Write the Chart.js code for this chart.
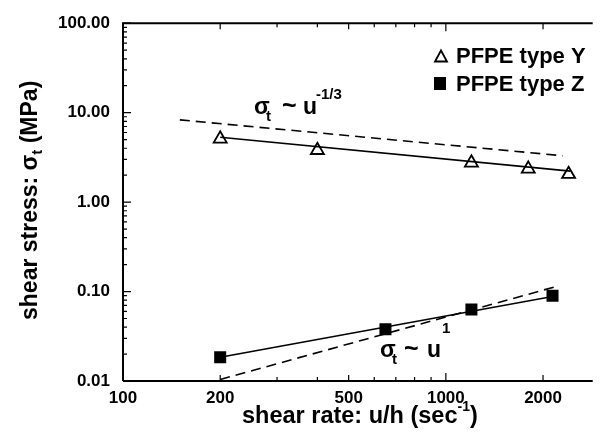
<!DOCTYPE html>
<html>
<head>
<meta charset="utf-8">
<script src="https://cdn.jsdelivr.net/npm/chart.js@4.4.1/dist/chart.umd.min.js"></script>
<style>
  html, body { margin: 0; padding: 0; background: #fff; }
</style>
</head>
<body>
<canvas id="shear" width="602" height="432"></canvas>
<script>
const xTicks = [100, 200, 500, 1000, 2000];
const yTicks = [0.01, 0.1, 1, 10, 100];

// PFPE type Y, open triangles
const rateY = [200, 400, 1200, 1800, 2400];
const stressY = [5.1, 3.8, 2.75, 2.35, 2.05];
// PFPE type Z, filled squares
const rateZ = [200, 650, 1200, 2140];
const stressZ = [0.0184, 0.038, 0.063, 0.09];

// solid fit lines and dashed power-law guides (end points)
const fitRateY = [200, 2430];
const fitStressY = [5.3, 2.22];
const guideRateY = [150, 2300];
const guideStressY = [8.3, 3.3];
const fitRateZ = [200, 2140];
const fitStressZ = [0.0184, 0.088];
const guideRateZ = [200, 2200];
const guideStressZ = [0.0104, 0.114];

const FONT = '"Liberation Sans", Arial, Helvetica, sans-serif';

function pts(xs, ys) {
  return xs.map((x, i) => ({ x: x, y: ys[i] }));
}

function lineSet(xs, ys, dashed) {
  return {
    data: pts(xs, ys),
    showLine: true,
    borderColor: '#000',
    borderWidth: 1.6,
    borderDash: dashed ? [10, 6] : [],
    pointRadius: 0,
    fill: false
  };
}

// draw pieces of text, each at its own x / baseline
function pieces(ctx, list) {
  list.forEach(p => {
    ctx.font = 'bold ' + p.s + 'px ' + FONT;
    ctx.fillText(p.t, p.x, p.y);
  });
}

// flowing text with sub/superscripts
function flow(ctx, x, y, list) {
  list.forEach(p => {
    ctx.font = 'bold ' + p.s + 'px ' + FONT;
    ctx.fillText(p.t, x, y + (p.dy || 0));
    x += ctx.measureText(p.t).width;
  });
}

const decorations = {
  id: 'decorations',
  afterDraw(chart) {
    const { ctx, chartArea: a, scales: { x, y } } = chart;
    ctx.save();
    ctx.strokeStyle = '#000';
    ctx.fillStyle = '#000';
    ctx.setLineDash([]);

    // frame: left, top, bottom
    ctx.lineWidth = 2;
    ctx.beginPath();
    ctx.moveTo(a.left, a.bottom);
    ctx.lineTo(a.left, a.top);
    ctx.lineTo(a.right, a.top);
    ctx.moveTo(a.left, a.bottom);
    ctx.lineTo(a.right, a.bottom);
    ctx.stroke();

    // inward ticks
    ctx.lineWidth = 1.2;
    ctx.beginPath();
    for (let d = 100; d <= 1000; d *= 10) {
      for (let m = 1; m <= 9; m++) {
        const v = m * d;
        if (v > 2850) break;
        const px = x.getPixelForValue(v);
        const len = m === 1 ? 8 : (xTicks.includes(v) ? 6 : 4);
        ctx.moveTo(px, a.bottom);
        ctx.lineTo(px, a.bottom - len);
        ctx.moveTo(px, a.top);
        ctx.lineTo(px, a.top + len);
      }
    }
    for (let d = 0.01; d < 50; d *= 10) {
      for (let m = 1; m <= 9; m++) {
        const py = y.getPixelForValue(m * d);
        const len = m === 1 ? 8 : 4;
        ctx.moveTo(a.left, py);
        ctx.lineTo(a.left + len, py);
      }
    }
    const top = y.getPixelForValue(100);
    ctx.moveTo(a.left, top);
    ctx.lineTo(a.left + 8, top);
    ctx.stroke();

    ctx.textBaseline = 'alphabetic';
    ctx.textAlign = 'left';

    // power-law labels
    pieces(ctx, [
      { t: 'σ', s: 23, x: 254, y: 114 },
      { t: 't', s: 15, x: 266, y: 121 },
      { t: '~', s: 25, x: 282, y: 114 },
      { t: 'u', s: 23, x: 303, y: 114 },
      { t: '-1/3', s: 15, x: 316, y: 99 }
    ]);
    pieces(ctx, [
      { t: 'σ', s: 23, x: 380, y: 357 },
      { t: 't', s: 15, x: 392, y: 364 },
      { t: '~', s: 25, x: 404, y: 357 },
      { t: 'u', s: 23, x: 427, y: 357 },
      { t: '1', s: 15, x: 442, y: 333 }
    ]);

    // legend
    ctx.lineWidth = 1.8;
    ctx.beginPath();
    ctx.moveTo(441, 50.5);
    ctx.lineTo(447, 61.5);
    ctx.lineTo(435, 61.5);
    ctx.closePath();
    ctx.stroke();
    ctx.fillRect(434, 77, 12, 13);
    ctx.font = 'bold 22px ' + FONT;
    ctx.fillText('PFPE type Y', 456, 63);
    ctx.fillText('PFPE type Z', 456, 91);

    // axis titles
    flow(ctx, 242, 423, [
      { t: 'shear rate: u/h (sec', s: 23.5 },
      { t: '-1', s: 14, dy: -12 },
      { t: ')', s: 23.5 }
    ]);
    ctx.translate(37, 320);
    ctx.rotate(-Math.PI / 2);
    flow(ctx, 0, 0, [
      { t: 'shear stress: σ', s: 23 },
      { t: 't', s: 15, dy: 5 },
      { t: ' (MPa)', s: 23 }
    ]);
    ctx.restore();
  }
};

new Chart(document.getElementById('shear'), {
  type: 'scatter',
  data: {
    datasets: [
      lineSet(guideRateY, guideStressY, true),
      lineSet(fitRateY, fitStressY, false),
      lineSet(guideRateZ, guideStressZ, true),
      lineSet(fitRateZ, fitStressZ, false),
      {
        label: 'PFPE type Y',
        data: pts(rateY, stressY),
        pointStyle: 'triangle',
        pointRadius: 7.5,
        pointBackgroundColor: '#fff',
        pointBorderColor: '#000',
        pointBorderWidth: 1.8
      },
      {
        label: 'PFPE type Z',
        data: pts(rateZ, stressZ),
        pointStyle: 'rect',
        pointRadius: 8.5,
        pointBackgroundColor: '#000',
        pointBorderColor: '#000',
        pointBorderWidth: 0
      }
    ]
  },
  options: {
    responsive: false,
    animation: false,
    layout: { padding: { top: 19, left: 0, right: 0, bottom: 0 } },
    plugins: { legend: { display: false }, tooltip: { enabled: false } },
    scales: {
      x: {
        type: 'logarithmic',
        min: 100,
        max: 2850,
        grid: { display: false, drawTicks: false },
        border: { display: false },
        afterBuildTicks: s => { s.ticks = xTicks.map(v => ({ value: v })); },
        afterFit: s => { s.height = 51; },
        ticks: {
          color: '#000',
          font: { family: FONT, size: 17, weight: 'bold' },
          padding: 7,
          maxRotation: 0,
          autoSkip: false,
          callback: v => String(v)
        }
      },
      y: {
        type: 'logarithmic',
        min: 0.01,
        max: 100,
        grid: { display: false, drawTicks: false },
        border: { display: false },
        afterBuildTicks: s => { s.ticks = yTicks.map(v => ({ value: v })); },
        afterFit: s => { s.width = 123; },
        ticks: {
          color: '#000',
          font: { family: FONT, size: 17, weight: 'bold' },
          padding: 13,
          autoSkip: false,
          callback: v => Number(v).toFixed(2)
        }
      }
    }
  },
  plugins: [decorations]
});
</script>
</body>
</html>
